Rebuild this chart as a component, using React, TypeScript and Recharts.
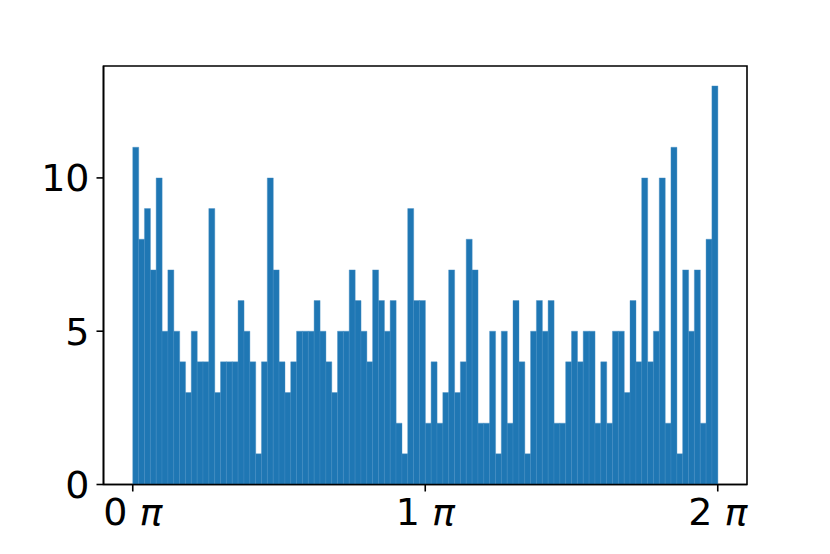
import React from "react";
import {
  ComposedChart,
  Bar,
  XAxis,
  YAxis,
  ReferenceArea,
} from "recharts";

// histogram counts, 100 bins spanning 0 .. 2π
const counts: number[] = [
  11, 8, 9, 7, 10, 5, 7, 5, 4, 3, 5, 4, 4, 9, 3, 4, 4, 4, 6, 5, 4, 1, 4, 10, 7,
  4, 3, 4, 5, 5, 5, 6, 5, 4, 3, 5, 5, 7, 6, 5, 4, 7, 6, 5, 6, 2, 1, 9, 6, 6,
  2, 4, 2, 3, 7, 3, 4, 8, 7, 2, 2, 5, 1, 5, 2, 6, 4, 1, 5, 6, 5, 6, 2, 2, 4,
  5, 4, 5, 5, 2, 4, 2, 5, 5, 3, 6, 4, 10, 4, 5, 10, 2, 11, 1, 7, 5, 7, 2, 8, 13,
];

// bin centres in units of π
const binCenters: number[] = counts.map((_, i) => (i + 0.5) * 0.02);

const xTicks: number[] = [0, 1, 2];
const yTicks: number[] = [0, 5, 10];
const xDomain: [number, number] = [-0.1, 2.1];
const yDomain: [number, number] = [0, 13.65];

const data = counts.map((c, i) => ({ bin: binCenters[i], count: c }));

const FONT = "'DejaVu Sans', sans-serif";
const FS = 38;

const PiTick = (props: any) => {
  const { x, y, payload } = props;
  return (
    <text
      x={x}
      y={y}
      dy="0.71em"
      textAnchor="middle"
      fontFamily={FONT}
      fontSize={FS}
      fill="#000"
    >
      <tspan>{`${payload.value} `}</tspan>
      <tspan fontStyle="italic">π</tspan>
    </text>
  );
};

export default function App() {
  return (
    <div style={{ position: "absolute", left: 0, top: 0 }}>
      <ComposedChart
        width={830}
        height={554}
        data={data}
        margin={{ top: 66, right: 83, left: 0, bottom: 19.5 }}
        barCategoryGap={0}
        barGap={0}
      >
        <XAxis
          dataKey="bin"
          type="number"
          domain={xDomain}
          ticks={xTicks}
          allowDataOverflow
          height={50}
          tick={<PiTick />}
          tickSize={7}
          tickMargin={7}
          axisLine={{ stroke: "#000", strokeWidth: 1.6 }}
          tickLine={{ stroke: "#000", strokeWidth: 1.6 }}
        />
        <YAxis
          domain={yDomain}
          ticks={yTicks}
          allowDataOverflow
          width={103.5}
          tickSize={7}
          tickMargin={7}
          tick={{ fontFamily: FONT, fontSize: FS, fill: "#000" }}
          axisLine={{ stroke: "#000", strokeWidth: 1.6 }}
          tickLine={{ stroke: "#000", strokeWidth: 1.6 }}
        />
        <Bar
          dataKey="count"
          fill="#1f77b4"
          stroke="#4a90c4"
          strokeWidth={0.4}
          isAnimationActive={false}
        />
        <ReferenceArea
          x1={xDomain[0]}
          x2={xDomain[1]}
          y1={yDomain[0]}
          y2={yDomain[1]}
          fill="none"
          stroke="#000"
          strokeWidth={1.6}
          ifOverflow="extendDomain"
        />
      </ComposedChart>
    </div>
  );
}
